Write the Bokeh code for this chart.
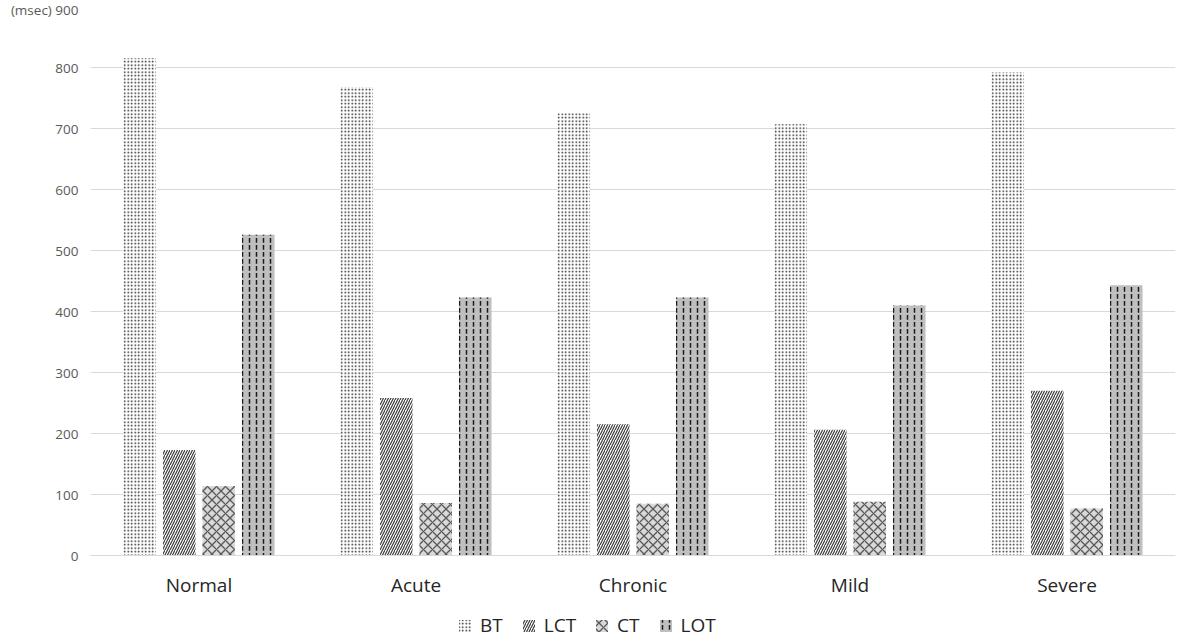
from bokeh.plotting import figure
from bokeh.models import (ColumnDataSource, FactorRange, Range1d, FixedTicker,
                          Legend, LegendItem)
from bokeh.layouts import column
from bokeh.transform import dodge
from bokeh.embed import file_html
from bokeh.resources import INLINE

categories = ["Normal", "Acute", "Chronic", "Mild", "Severe"]
series_names = ["BT", "LCT", "CT", "LOT"]
bt = [815, 768, 725, 707, 792]
lct = [173, 258, 215, 206, 270]
ct = [114, 86, 85, 88, 77]
lot = [526, 423, 423, 410, 443]
y_ticks = [0, 100, 200, 300, 400, 500, 600, 700, 800, 900]
y_unit = "(msec)"

source = ColumnDataSource(data=dict(cat=categories, BT=bt, LCT=lct, CT=ct, LOT=lot))

FONT = "Open Sans"

p = figure(x_range=FactorRange(factors=categories, range_padding=0),
           y_range=Range1d(0, 900),
           width=1181, height=600,
           output_backend="svg", toolbar_location=None,
           min_border_left=90, min_border_right=6,
           min_border_top=6, min_border_bottom=43)

p.outline_line_color = None
p.background_fill_color = "white"
p.xgrid.grid_line_color = None
p.ygrid.grid_line_color = "#d9d9d9"
p.ygrid.grid_line_width = 1

p.yaxis.ticker = FixedTicker(ticks=y_ticks)
p.yaxis.major_label_overrides = {y_ticks[-1]: f"{y_unit} {y_ticks[-1]}"}
p.yaxis.axis_line_color = None
p.yaxis.major_tick_line_color = None
p.yaxis.minor_tick_line_color = None
p.yaxis.major_tick_out = 0
p.yaxis.major_tick_in = 0
p.yaxis.major_label_text_font = FONT
p.yaxis.major_label_text_font_size = "13.5px"
p.yaxis.major_label_text_color = "#595959"
p.yaxis.major_label_standoff = 12

p.xaxis.axis_line_color = "#d9d9d9"
p.xaxis.major_tick_line_color = None
p.xaxis.minor_tick_line_color = None
p.xaxis.major_tick_out = 0
p.xaxis.major_tick_in = 0
p.xaxis.major_label_text_font = FONT
p.xaxis.major_label_text_font_size = "19px"
p.xaxis.major_label_text_color = "#262626"
p.xaxis.major_label_standoff = 16

step = 0.182
bar_w = 0.15
styles = {
    "BT": dict(fill_color="white", hatch_pattern="dot", hatch_color="#222222",
               hatch_scale=3.5, hatch_weight=1.2),
    "LCT": dict(fill_color="white", hatch_pattern="right_diagonal_line",
                hatch_color="#3a3a3a", hatch_scale=5, hatch_weight=1.2),
    "CT": dict(fill_color="#d9d9d9", hatch_pattern="diagonal_cross",
               hatch_color="#595959", hatch_scale=9, hatch_weight=1.3),
    "LOT": dict(fill_color="#bfbfbf", hatch_pattern="vertical_dash",
                hatch_color="#1a1a1a", hatch_scale=7, hatch_weight=1.5),
}

for i, name in enumerate(series_names):
    off = (i - 1.5) * step
    p.vbar(x=dodge("cat", off, range=p.x_range), top=name, width=bar_w,
           source=source, line_color=None, **styles[name])

# legend strip below the chart: zero-height sample bars carry the styles
lf = figure(width=1181, height=39, x_range=Range1d(0, 1), y_range=Range1d(0, 1),
            x_axis_type=None, y_axis_type=None,
            output_backend="svg", toolbar_location=None,
            min_border=0, min_border_left=0, min_border_right=0,
            min_border_top=0, min_border_bottom=0)
lf.outline_line_color = None
lf.xgrid.grid_line_color = None
lf.ygrid.grid_line_color = None

sample = ColumnDataSource(data=dict(x=[0.5], top=[0], bottom=[0]))
items = []
for name in series_names:
    r = lf.vbar(x="x", top="top", bottom="bottom", width=0.01, source=sample,
                line_color=None, **styles[name])
    items.append(LegendItem(label=name, renderers=[r]))

legend = Legend(items=items, orientation="horizontal", location=(367, 1),
                border_line_color=None, background_fill_alpha=0,
                padding=0, margin=0, spacing=18,
                glyph_width=15, glyph_height=15, label_standoff=8,
                label_text_font=FONT, label_text_font_size="19px",
                label_text_color="#262626")
lf.add_layout(legend, "center")

layout = column(p, lf, spacing=0)
open("out.html", "w").write(file_html(layout, INLINE))
